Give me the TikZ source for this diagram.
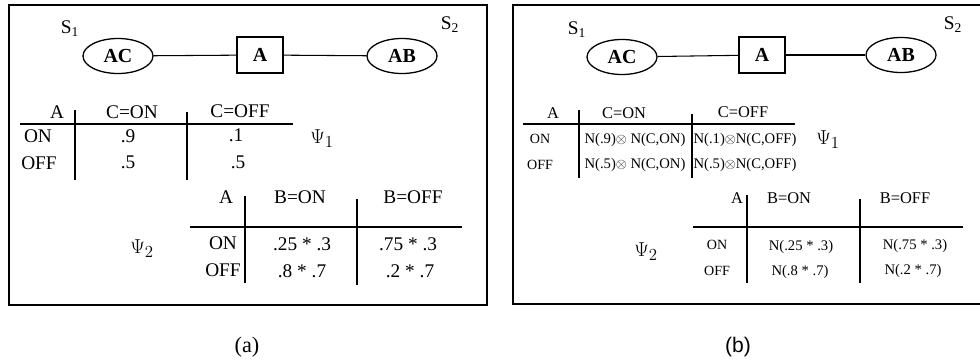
\documentclass[tikz,border=0pt]{standalone}
\usepackage{fontspec}
\setmainfont{Liberation Serif}
\setsansfont{Liberation Sans}
\usetikzlibrary{shapes.geometric}

\tikzset{
  frame/.style={line width=1.4pt},
  cluster/.style={draw, ellipse, line width=1.1pt, minimum width=2.1cm,
    minimum height=1.05cm, inner sep=0pt, font=\bfseries\fontsize{17}{17}\selectfont},
  sepset/.style={draw, rectangle, line width=1.1pt, minimum width=1.38cm,
    minimum height=1.08cm, inner sep=0pt, font=\bfseries\fontsize{17}{17}\selectfont},
  link/.style={line width=0.9pt},
  cell/.style={inner sep=0pt, text height=1.5ex, text depth=0.3ex,
    font=\fontsize{16.5}{16.5}\selectfont},
  headcell/.style={cell, font=\fontsize{14}{14}\selectfont},
  smallcell/.style={cell, font=\fontsize{12.5}{12.5}\selectfont},
  tinycell/.style={cell, font=\fontsize{12}{12}\selectfont},
  psilabel/.style={cell, font=\fontsize{19}{19}\selectfont},
  rule/.style={line width=1.3pt},
  bar/.style={line width=1pt}
}

% Bold tensor product sign used in panel (b)
\newcommand{\tprod}{\mbox{\large$\otimes$}}

\begin{document}
\begin{tikzpicture}[x=0.03cm, y=-0.03cm]

    % Fix the page to the size of the reference
    \useasboundingbox (0, 0) rectangle (980, 362);

    % ---------------- Panel (a) ----------------
    % Outer frame
    \draw[frame] (9, 5) rectangle (487, 305);

    % Junction tree: two clusters and a separator
    \node[cluster] (ACa) at (118, 56) {AC};
    \node[sepset]  (Aa)  at (260, 55) {A};
    \node[cluster] (ABa) at (402, 56) {AB};
    \draw[link] (ACa) -- (Aa);
    \draw[link] (Aa) -- (ABa);

    % Cluster names
    \node[cell] (S1a) at (70, 30) {S\textsubscript{1}};
    \node[cell] (S2a) at (450, 26) {S\textsubscript{2}};

    % Table psi_1
    \node[cell] (hAa)   at (57, 115)  {A};
    \node[cell] (hCona) at (132, 115) {C=ON};
    \node[cell] (hCofa) at (240, 114) {C=OFF};
    \draw[rule] (20, 124) -- (293, 124);
    \draw[bar] (75, 110) -- (75, 180);
    \draw[bar] (187, 112) -- (187, 180);
    \node[cell] at (38, 139)  {ON};
    \node[cell] at (128, 139) {.9};
    \node[cell] at (236, 138) {.1};
    \node[cell] at (39, 166)  {OFF};
    \node[cell] at (128, 165) {.5};
    \node[cell] at (238, 165) {.5};
    \node[psilabel] (psi1a) at (322, 140) {$\Psi_1$};

    % Table psi_2
    \node[cell] (hAb)   at (226, 200) {A};
    \node[cell] (hBona) at (300, 200) {B=ON};
    \node[cell] (hBofa) at (413, 200) {B=OFF};
    \draw[rule] (190, 227) -- (462, 227);
    \draw[bar] (245, 196) -- (245, 283);
    \draw[bar] (357, 199) -- (357, 285);
    \node[cell] at (223, 246) {ON};
    \node[cell] at (302, 247) {.25 * .3};
    \node[cell] at (408, 247) {.75 * .3};
    \node[cell] at (223, 273) {OFF};
    \node[cell] at (302, 274) {.8 * .7};
    \node[cell] at (410, 274) {.2 * .7};
    \node[psilabel] (psi2a) at (142, 250) {$\Psi_2$};

    % Caption
    \node[cell, font=\fontsize{19}{19}\selectfont] (capa) at (247, 349) {(a)};

    % ---------------- Panel (b) ----------------
    % Outer frame, cut off on the right
    \draw[frame] (980, 5) -- (513, 5) -- (513, 304) -- (980, 304);

    % Junction tree: two clusters and a separator
    \node[cluster] (ACb) at (622, 57) {AC};
    \node[sepset]  (Ab)  at (762, 55) {A};
    \node[cluster] (ABb) at (901, 55) {AB};
    \draw[link] (ACb) -- (Ab);
    \draw[link] (Ab) -- (ABb);

    % Cluster names
    \node[cell] (S1b) at (577, 31) {S\textsubscript{1}};
    \node[cell] (S2b) at (953, 26) {S\textsubscript{2}};

    % Table psi_1 with nodes
    \node[headcell] at (553, 115) {A};
    \node[headcell] at (624, 115) {C=ON};
    \node[headcell] at (743, 114) {C=OFF};
    \draw[rule] (523, 124) -- (795, 124);
    \draw[bar] (579, 110) -- (579, 178);
    \draw[bar] (692, 114) -- (692, 178);
    \node[tinycell] at (540, 140) {ON};
    \node[smallcell] at (635, 140) {N(.9)\tprod\ N(C,ON)};
    \node[smallcell] at (745, 140) {N(.1)\tprod N(C,OFF)};
    \node[tinycell] at (540, 166) {OFF};
    \node[smallcell] at (635, 165) {N(.5)\tprod\ N(C,ON)};
    \node[smallcell] at (745, 165) {N(.5)\tprod N(C,OFF)};
    \node[psilabel] (psi1b) at (828, 141) {$\Psi_1$};

    % Table psi_2 with nodes
    \node[headcell] at (737, 200) {A};
    \node[headcell] at (789, 200) {B=ON};
    \node[headcell] at (905, 200) {B=OFF};
    \draw[rule] (693, 227) -- (963, 227);
    \draw[bar] (747, 195) -- (747, 283);
    \draw[bar] (860, 199) -- (860, 283);
    \node[tinycell] at (717, 246) {ON};
    \node[smallcell] at (801, 247) {N(.25 * .3)};
    \node[smallcell] at (915, 246) {N(.75 * .3)};
    \node[tinycell] at (717, 272) {OFF};
    \node[smallcell] at (800, 272) {N(.8 * .7)};
    \node[smallcell] at (913, 271) {N(.2 * .7)};
    \node[psilabel] (psi2b) at (646, 253) {$\Psi_2$};

    % Caption
    \node[cell, font=\sffamily\fontsize{18}{18}\selectfont] (capb) at (738, 349) {(b)};

\end{tikzpicture}
\end{document}
